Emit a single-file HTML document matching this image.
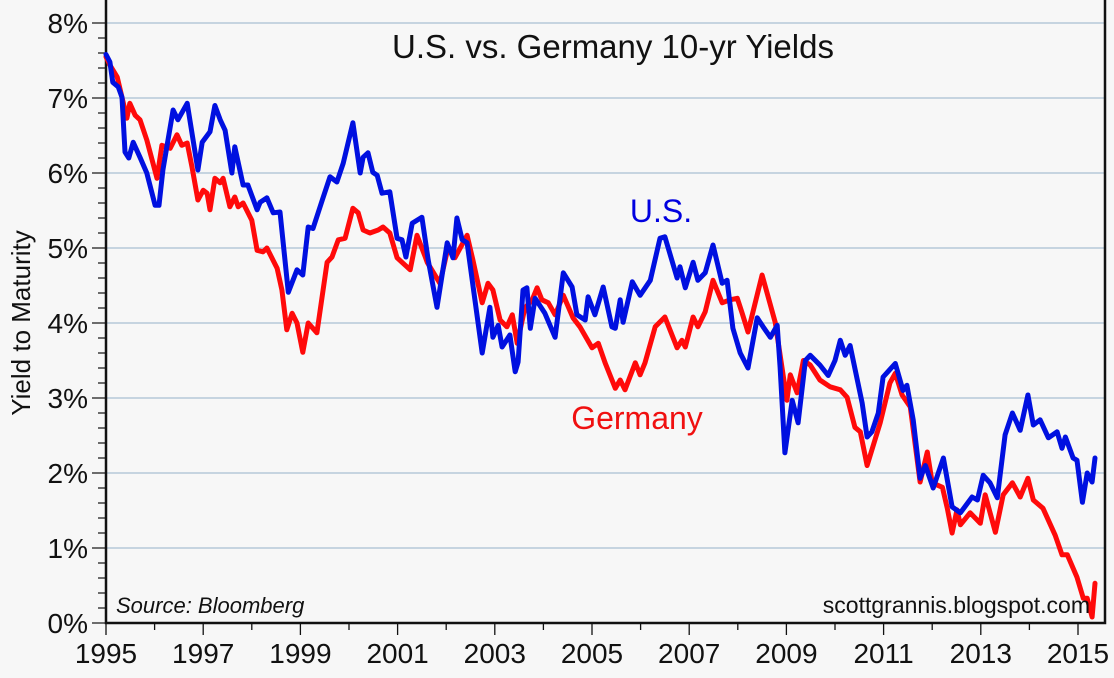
<!DOCTYPE html>
<html><head><meta charset="utf-8"><style>
body{margin:0;background:#f7f7f7;}
svg{display:block;font-family:"Liberation Sans",sans-serif;}
</style></head><body>
<svg id="chart" width="1114" height="678" viewBox="0 0 1114 678">
<rect x="0" y="0" width="1114" height="678" fill="#f7f7f7"/>
<g id="grid"></g>
<g id="axes"></g>
<g id="series"></g>
<text x="613" y="58" font-size="33" text-anchor="middle" fill="#111">U.S. vs. Germany 10-yr Yields</text>
<text x="661" y="222" font-size="32" text-anchor="middle" fill="#0000e0">U.S.</text>
<text x="637" y="429" font-size="32" text-anchor="middle" fill="#f01010">Germany</text>
<text x="116" y="613" font-size="22" font-style="italic" fill="#111">Source: Bloomberg</text>
<text x="1090" y="613" font-size="23" text-anchor="end" fill="#111">scottgrannis.blogspot.com</text>
<text transform="translate(30,323) rotate(-90)" font-size="26" text-anchor="middle" fill="#111">Yield to Maturity</text>
</svg>
<script>
const yTicks=[0,1,2,3,4,5,6,7,8];
const yTickLabels=["0%","1%","2%","3%","4%","5%","6%","7%","8%"];
const xTicks=[1995,1997,1999,2001,2003,2005,2007,2009,2011,2013,2015];
const xTickLabels=["1995","1997","1999","2001","2003","2005","2007","2009","2011","2013","2015"];
const usYears=[1995.0,1995.08,1995.14,1995.25,1995.33,1995.39,1995.47,1995.56,1995.70,1995.84,1996.01,1996.09,1996.17,1996.38,1996.48,1996.67,1996.89,1996.98,1997.14,1997.24,1997.35,1997.45,1997.59,1997.65,1997.82,1997.92,1998.11,1998.17,1998.31,1998.44,1998.58,1998.75,1998.93,1999.05,1999.16,1999.26,1999.45,1999.61,1999.75,1999.88,2000.08,2000.23,2000.29,2000.39,2000.49,2000.58,2000.68,2000.84,2000.99,2001.09,2001.17,2001.30,2001.50,2001.63,2001.81,2002.02,2002.14,2002.22,2002.33,2002.43,2002.74,2002.90,2002.96,2003.07,2003.15,2003.31,2003.42,2003.48,2003.58,2003.66,2003.73,2003.83,2004.03,2004.24,2004.41,2004.59,2004.69,2004.86,2004.92,2005.06,2005.23,2005.41,2005.48,2005.58,2005.64,2005.83,2005.99,2006.20,2006.40,2006.50,2006.75,2006.81,2006.92,2007.08,2007.18,2007.33,2007.49,2007.68,2007.78,2007.90,2008.05,2008.21,2008.40,2008.52,2008.67,2008.81,2008.87,2008.97,2009.12,2009.24,2009.39,2009.49,2009.69,2009.86,2010.00,2010.11,2010.21,2010.31,2010.56,2010.66,2010.76,2010.89,2010.99,2011.24,2011.40,2011.48,2011.61,2011.75,2011.86,2012.02,2012.23,2012.41,2012.58,2012.82,2012.93,2013.05,2013.19,2013.34,2013.50,2013.65,2013.81,2013.97,2014.08,2014.22,2014.39,2014.57,2014.67,2014.74,2014.90,2014.98,2015.09,2015.19,2015.29,2015.35];
const usYields=[7.58,7.48,7.21,7.15,7.01,6.28,6.2,6.41,6.21,6.0,5.57,5.57,6.04,6.84,6.71,6.93,6.04,6.41,6.55,6.9,6.71,6.57,6.0,6.35,5.84,5.84,5.51,5.61,5.67,5.47,5.48,4.41,4.71,4.64,5.28,5.26,5.64,5.95,5.88,6.13,6.67,6.0,6.21,6.27,6.01,5.97,5.73,5.75,5.13,5.11,4.88,5.33,5.41,4.84,4.21,5.07,4.87,5.4,5.11,5.07,3.6,4.21,3.81,3.97,3.68,3.84,3.35,3.48,4.44,4.47,3.93,4.33,4.13,3.81,4.67,4.48,4.11,4.04,4.35,4.11,4.48,3.95,3.93,4.31,4.01,4.55,4.37,4.57,5.13,5.15,4.6,4.75,4.47,4.81,4.57,4.67,5.04,4.53,4.57,3.93,3.6,3.4,4.07,3.95,3.81,3.97,3.41,2.27,2.97,2.67,3.5,3.57,3.44,3.3,3.5,3.77,3.57,3.7,2.93,2.48,2.55,2.8,3.28,3.46,3.1,3.17,2.71,1.93,2.1,1.8,2.2,1.55,1.47,1.68,1.64,1.97,1.87,1.67,2.51,2.8,2.57,3.04,2.64,2.71,2.47,2.55,2.33,2.48,2.2,2.17,1.61,2.0,1.88,2.2];
const deYears=[1995.0,1995.08,1995.23,1995.43,1995.49,1995.60,1995.70,1995.84,1996.05,1996.15,1996.32,1996.46,1996.56,1996.67,1996.77,1996.89,1997.00,1997.08,1997.14,1997.24,1997.35,1997.41,1997.55,1997.65,1997.72,1997.82,1998.00,1998.11,1998.23,1998.31,1998.52,1998.62,1998.72,1998.83,1998.93,1999.05,1999.16,1999.34,1999.55,1999.65,1999.78,1999.92,2000.08,2000.19,2000.29,2000.43,2000.60,2000.70,2000.84,2000.99,2001.26,2001.40,2001.57,2001.61,2001.87,2002.04,2002.18,2002.43,2002.55,2002.74,2002.86,2002.96,2003.11,2003.25,2003.36,2003.46,2003.62,2003.77,2003.87,2003.97,2004.10,2004.24,2004.41,2004.61,2004.75,2005.00,2005.13,2005.27,2005.48,2005.58,2005.68,2005.89,2005.99,2006.09,2006.30,2006.50,2006.75,2006.85,2006.92,2007.08,2007.18,2007.33,2007.49,2007.68,2007.84,2007.99,2008.09,2008.21,2008.50,2008.77,2009.01,2009.08,2009.22,2009.35,2009.49,2009.69,2009.90,2010.11,2010.25,2010.41,2010.52,2010.66,2010.93,2011.13,2011.24,2011.38,2011.55,2011.75,2011.90,2012.00,2012.21,2012.31,2012.41,2012.51,2012.58,2012.78,2012.99,2013.09,2013.30,2013.46,2013.65,2013.81,2013.97,2014.08,2014.28,2014.53,2014.67,2014.78,2014.98,2015.11,2015.19,2015.29,2015.35];
const deYields=[7.55,7.44,7.28,6.73,6.93,6.77,6.71,6.44,5.93,6.37,6.33,6.51,6.37,6.4,6.08,5.64,5.77,5.73,5.51,5.93,5.87,5.93,5.55,5.68,5.55,5.6,5.37,4.97,4.95,5.0,4.73,4.44,3.91,4.13,4.0,3.61,4.0,3.87,4.81,4.88,5.11,5.13,5.53,5.47,5.24,5.2,5.24,5.28,5.2,4.87,4.71,5.17,4.88,4.81,4.53,5.01,4.87,5.17,4.84,4.27,4.53,4.44,4.04,3.95,4.11,3.73,4.2,4.31,4.47,4.31,4.27,4.11,4.37,4.07,3.95,3.67,3.73,3.47,3.13,3.24,3.11,3.47,3.31,3.47,3.95,4.08,3.67,3.77,3.68,4.08,3.95,4.15,4.57,4.27,4.31,4.33,4.13,3.88,4.64,4.01,2.97,3.31,3.07,3.5,3.44,3.24,3.15,3.11,3.01,2.61,2.55,2.1,2.67,3.2,3.33,3.04,2.88,1.88,2.28,1.87,1.81,1.53,1.2,1.51,1.31,1.47,1.33,1.71,1.21,1.71,1.87,1.68,1.93,1.64,1.53,1.17,0.91,0.91,0.61,0.33,0.33,0.08,0.53];

const X0=106,PX_YEAR=48.6,Y0=623,PX_PCT=75,RIGHT=1105;
const xs=y=>X0+(y-1995)*PX_YEAR;
const ys=v=>Y0-v*PX_PCT;
const NS="http://www.w3.org/2000/svg";
function mk(tag,attrs,parent){const e=document.createElementNS(NS,tag);for(const k in attrs)e.setAttribute(k,attrs[k]);parent.appendChild(e);return e;}
const grid=document.getElementById('grid'),axes=document.getElementById('axes'),series=document.getElementById('series');
yTicks.forEach((v,i)=>{
  if(v>0){const g=mk('line',{x1:X0,x2:RIGHT,y1:ys(v),y2:ys(v),stroke:'#a8c0d2','stroke-width':1.3},grid);
  
  }
  const t=mk('text',{x:88,y:ys(v)+10,'font-size':28,'text-anchor':'end',fill:'#111'},axes);
  t.textContent=yTickLabels[i];
  
  
});
for(let v=0;v<=8.001;v+=0.2){
  const major=Math.abs(v-Math.round(v))<0.01;
  const tk=mk('line',{x1:X0-(major?14:8),x2:X0,y1:ys(v),y2:ys(v),stroke:'#111','stroke-width':1.2},axes);
  
  
}
for(let yr=1995;yr<=2015;yr++){
  const major=(yr-1995)%2===0;
  const tk=mk('line',{x1:xs(yr),x2:xs(yr),y1:Y0,y2:Y0+(major?12:7),stroke:'#111','stroke-width':1.3},axes);
  
  
}
xTicks.forEach((yr,i)=>{
  const t=mk('text',{x:xs(yr),y:663,'font-size':28,'text-anchor':'middle',fill:'#111'},axes);
  t.textContent=xTickLabels[i];
  
  
});
const ax=mk('path',{d:`M${X0},0 V${Y0} H${RIGHT} V0`,fill:'none',stroke:'#111','stroke-width':2.5},axes);


function line(years,vals,color,name){
  const d=years.map((y,i)=>(i?'L':'M')+xs(y).toFixed(1)+','+ys(vals[i]).toFixed(1)).join(' ');
  const p=mk('path',{d:d,fill:'none',stroke:color,'stroke-width':5,'stroke-linejoin':'round','stroke-linecap':'round'},series);
  
  
}
line(deYears,deYields,'#ff0a0a','germany-line');
line(usYears,usYields,'#0010e0','us-line');
</script>
</body></html>
